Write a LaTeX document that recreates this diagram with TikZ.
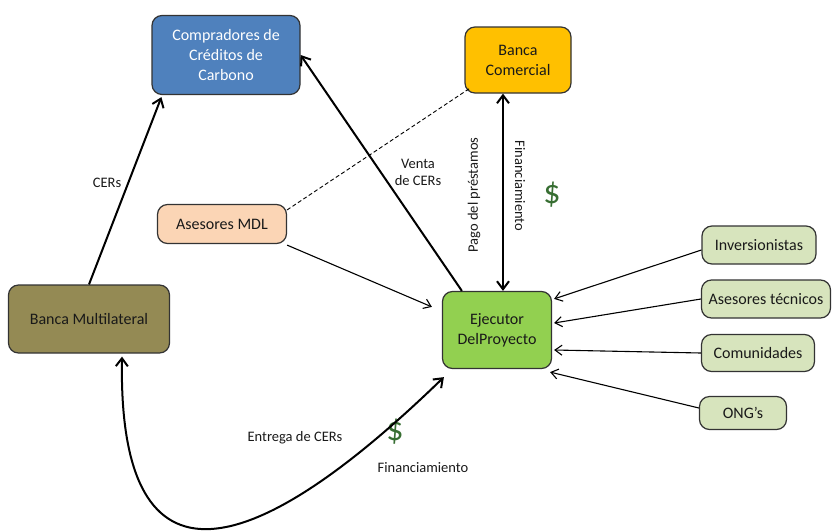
\documentclass[tikz,border=0pt]{standalone}
\usepackage{fontspec}
\setmainfont{Carlito}
\usetikzlibrary{arrows.meta}
\definecolor{cblue}{RGB}{79,129,189}
\definecolor{cyellow}{RGB}{255,192,0}
\definecolor{cpeach}{RGB}{251,213,181}
\definecolor{colive}{RGB}{148,138,84}
\definecolor{cgreen}{RGB}{146,208,80}
\definecolor{clight}{RGB}{215,228,189}
\definecolor{cdollar}{RGB}{55,110,50}
\tikzset{
  box/.style={draw=black!80, line width=1.2pt, rounded corners=10pt, align=center,
    font=\fontsize{16}{20}\selectfont, inner sep=0pt, text=black!90},
  lbl/.style={font=\fontsize{14.5}{17}\selectfont, align=center, inner sep=0pt, text=black!90},
  dollar/.style={font=\fontsize{34}{36}\selectfont, text=cdollar, inner sep=0pt},
  thickarr/.style={line width=2pt, -{Straight Barb[length=8pt,width=12pt]}},
  thinarr/.style={line width=1.1pt, -{Straight Barb[length=7pt,width=10pt]}},
}
\begin{document}
\begin{tikzpicture}[x=1pt,y=-1pt]
\useasboundingbox (0,0) rectangle (833,531);
\node[box, fill=cblue, text=white, minimum width=148pt, minimum height=79pt] (comp) at (226,55) {Compradores de\\Créditos de\\Carbono};
\node[box, fill=cyellow, minimum width=106pt, minimum height=66pt] (bcom) at (518,60) {Banca\\Comercial};
\node[box, fill=cpeach, minimum width=129pt, minimum height=39pt] (amdl) at (222,224) {Asesores MDL};
\node[box, fill=colive, minimum width=161pt, minimum height=68pt] (bmul) at (89,319) {Banca Multilateral};
\node[box, fill=cgreen, minimum width=109pt, minimum height=77pt] (ejec) at (497,330) {Ejecutor\\DelProyecto};
\node[box, fill=clight, minimum width=114pt, minimum height=38pt] (inv) at (759,245) {Inversionistas};
\node[box, fill=clight, minimum width=129pt, minimum height=38pt] (atec) at (766,299) {Asesores técnicos};
\node[box, fill=clight, minimum width=113pt, minimum height=37pt] (comu) at (758,353) {Comunidades};
\node[box, fill=clight, minimum width=87pt, minimum height=33pt] (ong) at (743,413) {ONG’s};

\node[lbl] (lcers) at (107,183) {CERs};
\node[lbl] (lventa) at (418,172) {Venta\\de CERs};
\node[lbl, rotate=90] (lpago) at (474,195) {Pago del préstamos};
\node[lbl, rotate=-90] (lfin1) at (520,186) {Financiamiento};
\node[dollar] (d1) at (552,195) {\$};
\node[lbl] (lentrega) at (295,438) {Entrega de CERs};
\node[dollar] (d2) at (395,432) {\$};
\node[lbl] (lfin2) at (423,468) {Financiamiento};

\draw[thickarr] (bmul.north) -- ([xshift=10pt,yshift=-2pt]comp.south west);
\draw[thickarr] ([xshift=20pt]ejec.north west) -- (comp.east);
\draw[dash pattern=on 4pt off 2.5pt, line width=0.9pt] ([yshift=-6pt]amdl.north east) -- ([xshift=5pt,yshift=5pt]bcom.south west);
\draw[thinarr] ([yshift=-1pt]amdl.south east) -- ([xshift=-10pt,yshift=-16pt]ejec.north west);
\draw[thickarr, {Straight Barb[length=8pt,width=12pt]}-{Straight Barb[length=8pt,width=12pt]}] ([xshift=-15pt]bcom.south) -- ([xshift=-15pt]bcom.south |- ejec.north);
\draw[thinarr] ([yshift=-5pt]inv.west) -- ([xshift=2pt,yshift=-8pt]ejec.north east);
\draw[thinarr] (atec.west) -- ([xshift=2pt,yshift=7pt]ejec.east);
\draw[thinarr] (comu.west) -- ([xshift=2pt,yshift=-20pt]ejec.east);
\draw[thinarr] ([yshift=5pt]ong.west) -- ([xshift=-2pt,yshift=-3pt]ejec.south east);
\draw[thickarr, {Straight Barb[length=8pt,width=12pt]}-{Straight Barb[length=8pt,width=12pt]}] ([xshift=33pt,yshift=-3pt]bmul.south) .. controls (118,590) and (240,575) .. ([xshift=2pt,yshift=-8pt]ejec.south west);
\end{tikzpicture}
\end{document}
